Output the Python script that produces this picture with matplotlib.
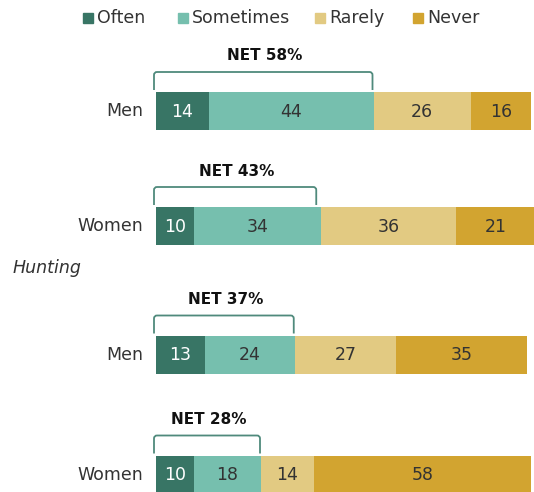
import matplotlib.pyplot as plt
from matplotlib.patches import Rectangle
from matplotlib.path import Path
from matplotlib.patches import PathPatch

plt.rcParams['font.family'] = ['DejaVu Sans']

# survey data: share of respondents (%)
categories = ['Often', 'Sometimes', 'Rarely', 'Never']
groups = ['Men', 'Women', 'Men', 'Women']
often = [14, 10, 13, 10]
sometimes = [44, 34, 24, 18]
rarely = [26, 36, 27, 14]
never = [16, 21, 35, 58]
net = [58, 43, 37, 28]
section_label = 'Hunting'

colors = ['#387565', '#76bfae', '#e2ca82', '#d2a430']
text_colors = ['white', '#333333', '#333333', '#333333']
bracket_color = '#4f8a7c'

W, H = 534, 492
x0, span = 156, 375          # pixel start of bars, pixels per 100%
row_y = [111, 226, 354.5, 474.5]  # bar centres, px from top
bar_h = 38

fig = plt.figure(figsize=(W / 100, H / 100), dpi=100)
ax = fig.add_axes([x0 / W, 0, span / W, 1])
ax.set_xlim(0, 100)
ax.set_ylim(H, 0)
ax.axis('off')

series = [often, sometimes, rarely, never]
left = [0] * len(groups)
for k, vals in enumerate(series):
    ax.barh(row_y, vals, left=left, height=bar_h, color=colors[k],
            linewidth=0, clip_on=False)
    for i, v in enumerate(vals):
        ax.text(left[i] + v / 2, row_y[i] + 1, str(v), ha='center', va='center',
                fontsize=12.5, color=text_colors[k], clip_on=False)
    left = [l + v for l, v in zip(left, vals)]

# group labels left of bars
for i, g in enumerate(groups):
    ax.annotate(g, xy=(0, row_y[i]), xytext=(-9, 0), textcoords='offset points',
                ha='right', va='center', fontsize=12.5, color='#333333')

# NET brackets
px = 100 / span  # data units per pixel on x
for i, n in enumerate(net):
    top = row_y[i] - bar_h / 2
    y_lo, y_hi = top - 2, top - 20
    r = 3
    a, b = -2 * px, n - px
    verts = [(a, y_lo), (a, y_hi + r), (a, y_hi), (a + r * px, y_hi),
             (b - r * px, y_hi), (b, y_hi), (b, y_hi + r), (b, y_lo)]
    codes = [Path.MOVETO, Path.LINETO, Path.CURVE3, Path.CURVE3,
             Path.LINETO, Path.CURVE3, Path.CURVE3, Path.LINETO]
    ax.add_patch(PathPatch(Path(verts, codes), fill=False, clip_on=False,
                           edgecolor=bracket_color, linewidth=1.3))
    ax.text(n / 2, top - 36, f'NET {n}%', ha='center', va='center',
            fontsize=11, fontweight='bold', color='#111111')

# section heading
fig.text(13 / W, 1 - 268 / H, section_label, ha='left', va='center',
         fontsize=12.5, style='italic', color='#333333')

# legend
leg_x = [83, 178, 315, 413]
leg_y = 18
for k, c in enumerate(categories):
    fig.patches.append(Rectangle((leg_x[k] / W, 1 - (leg_y + 5) / H), 10 / W, 10 / H,
                                 transform=fig.transFigure, color=colors[k]))
    fig.text((leg_x[k] + 14) / W, 1 - leg_y / H, c, ha='left', va='center',
             fontsize=12.5, color='#333333')

fig.savefig('out.png', dpi=100)
